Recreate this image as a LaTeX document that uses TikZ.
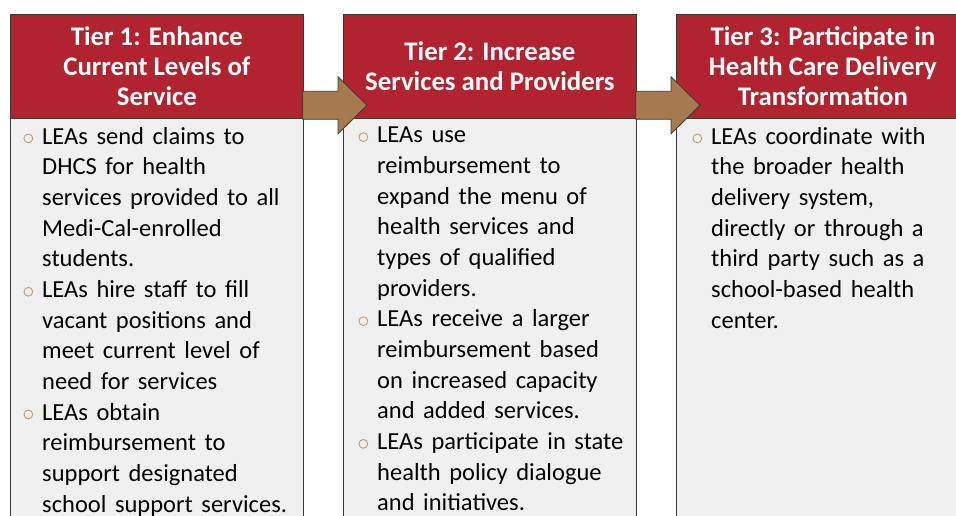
\documentclass[tikz,border=0pt]{standalone}
\usepackage{fontspec}
\setmainfont{Carlito}[WordSpace=1.55]
\newfontfamily\tierheadfont{Carlito}
\usetikzlibrary{calc}

\definecolor{tierred}{HTML}{B0232F}
\definecolor{panelgray}{HTML}{F0F0F0}
\definecolor{edgegray}{HTML}{3A3A3A}
\definecolor{arrowbrown}{HTML}{A57A4E}
\definecolor{bulletbrown}{HTML}{C49A6C}

% hollow round bullet hung to the left of the item text
\newcommand{\tierbullet}{\llap{\tikz[baseline=-5.8pt]\draw[bulletbrown,line width=0.9pt] (0pt,0pt) circle (4.4pt);\hspace{9pt}}}

\begin{document}
\begin{tikzpicture}[x=1pt,y=-1pt,
  header/.style={draw=edgegray, line width=0.8pt, fill=tierred, text=white,
    font=\tierheadfont\bfseries\fontsize{26.8}{29.8}\selectfont, align=center,
    minimum width=293pt, minimum height=104pt, anchor=north west, inner sep=0pt},
  panel/.style={draw=edgegray, line width=0.8pt, fill=panelgray,
    minimum width=293pt, minimum height=430pt, anchor=north west, inner sep=0pt},
  items/.style={font=\fontsize{24.5}{30.67}\selectfont, align=left,
    anchor=north west, inner sep=0pt},
  blockarrow/.style={draw=edgegray, line width=0.8pt, fill=arrowbrown, line join=miter}]

\useasboundingbox (0,0) rectangle (956,516);

% column panels
\node[panel] (b1) at (10,118) {};
\node[panel] (b2) at (343,118) {};
\node[panel] (b3) at (676,118) {};

% tier headers
\node[header] (h1) at (10,14) {Tier 1: Enhance\\Current Levels of\\Service};
\node[header] (h2) at (343,14) {Tier 2: Increase\\Services and Providers};
\node[header] (h3) at (676,14) {Tier 3: Participate in\\Health Care Delivery\\Transformation};

% item lists
\node[items] (t1) at (42,127) {\tierbullet LEAs send claims to\\
  DHCS for health\\
  services provided to all\\
  Medi-Cal-enrolled\\
  students.\\
  \tierbullet LEAs hire staff to fill\\
  vacant positions and\\
  meet current level of\\
  need for services\\
  \tierbullet LEAs obtain\\
  reimbursement to\\
  support designated\\
  school support services.};

\node[items] (t2) at (377,127) {\tierbullet LEAs use\\
  reimbursement to\\
  expand the menu of\\
  health services and\\
  types of qualified\\
  providers.\\
  \tierbullet LEAs receive a larger\\
  reimbursement based\\
  on increased capacity\\
  and added services.\\
  \tierbullet LEAs participate in state\\
  health policy dialogue\\
  and initiatives.};

\node[items] (t3) at (711,127) {\tierbullet LEAs coordinate with\\
  the broader health\\
  delivery system,\\
  directly or through a\\
  third party such as a\\
  school-based health\\
  center.};

% block arrows between tiers
\foreach \a/\b in {h1/h2, h2/h3} {
  \coordinate (s) at ($(\a.south east)+(-1,-13.5)$);
  \coordinate (t) at ($(\b.west |- s)+(24,0)$);
  \draw[blockarrow] ($(s)+(0,-14)$) -- ($(t)+(-29,-14)$) -- ($(t)+(-29,-28.5)$)
    -- (t) -- ($(t)+(-29,28.5)$) -- ($(t)+(-29,14)$) -- ($(s)+(0,14)$) -- cycle;
}
\end{tikzpicture}
\end{document}
